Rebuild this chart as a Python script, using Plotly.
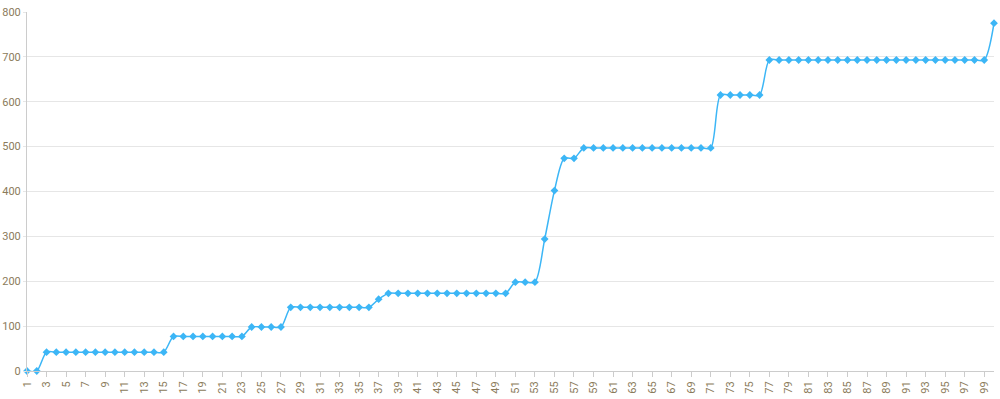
import plotly.graph_objects as go

categories = list(range(1, 101))
values = (
    [0, 0]
    + [42] * 13          # 3-15
    + [77] * 8           # 16-23
    + [98] * 4           # 24-27
    + [142] * 9          # 28-36
    + [160]              # 37
    + [173] * 13         # 38-50
    + [198] * 3          # 51-53
    + [294, 402]         # 54-55
    + [474] * 2          # 56-57
    + [497] * 14         # 58-71
    + [615] * 5          # 72-76
    + [693] * 23         # 77-99
    + [775]              # 100
)
x_ticks = list(range(1, 100, 2))
y_ticks = [0, 100, 200, 300, 400, 500, 600, 700, 800]

fig = go.Figure(go.Scatter(
    x=categories, y=values, mode="lines+markers",
    line=dict(color="#3cb6f6", width=1.5, shape="spline", smoothing=0.8),
    marker=dict(symbol="diamond", size=6, color="#3cb6f6"),
    hoverinfo="x+y", cliponaxis=False,
))

tick_font = dict(family="Roboto, Arial, sans-serif", size=11, color="#8b7b5b")
fig.update_layout(
    width=1000, height=399,
    margin=dict(l=27, r=6, t=12, b=28),
    plot_bgcolor="white", paper_bgcolor="white",
    showlegend=False,
    xaxis=dict(range=[1, 100], tickvals=x_ticks, ticktext=[str(v) for v in x_ticks],
               tickangle=-90, showgrid=False, zeroline=False, automargin=False,
               showline=True, linecolor="#cccccc", linewidth=1,
               ticks="outside", ticklen=5, tickcolor="#cccccc",
               tickfont=tick_font, fixedrange=True),
    yaxis=dict(range=[0, 800], tickvals=y_ticks, showgrid=True, gridcolor="#e6e6e6",
               zeroline=False, showline=True, linecolor="#cccccc", linewidth=1,
               ticks="outside", ticklen=3, tickcolor="#e6e6e6", automargin=False,
               tickfont=tick_font, fixedrange=True),
)
fig.write_html("out.html")
